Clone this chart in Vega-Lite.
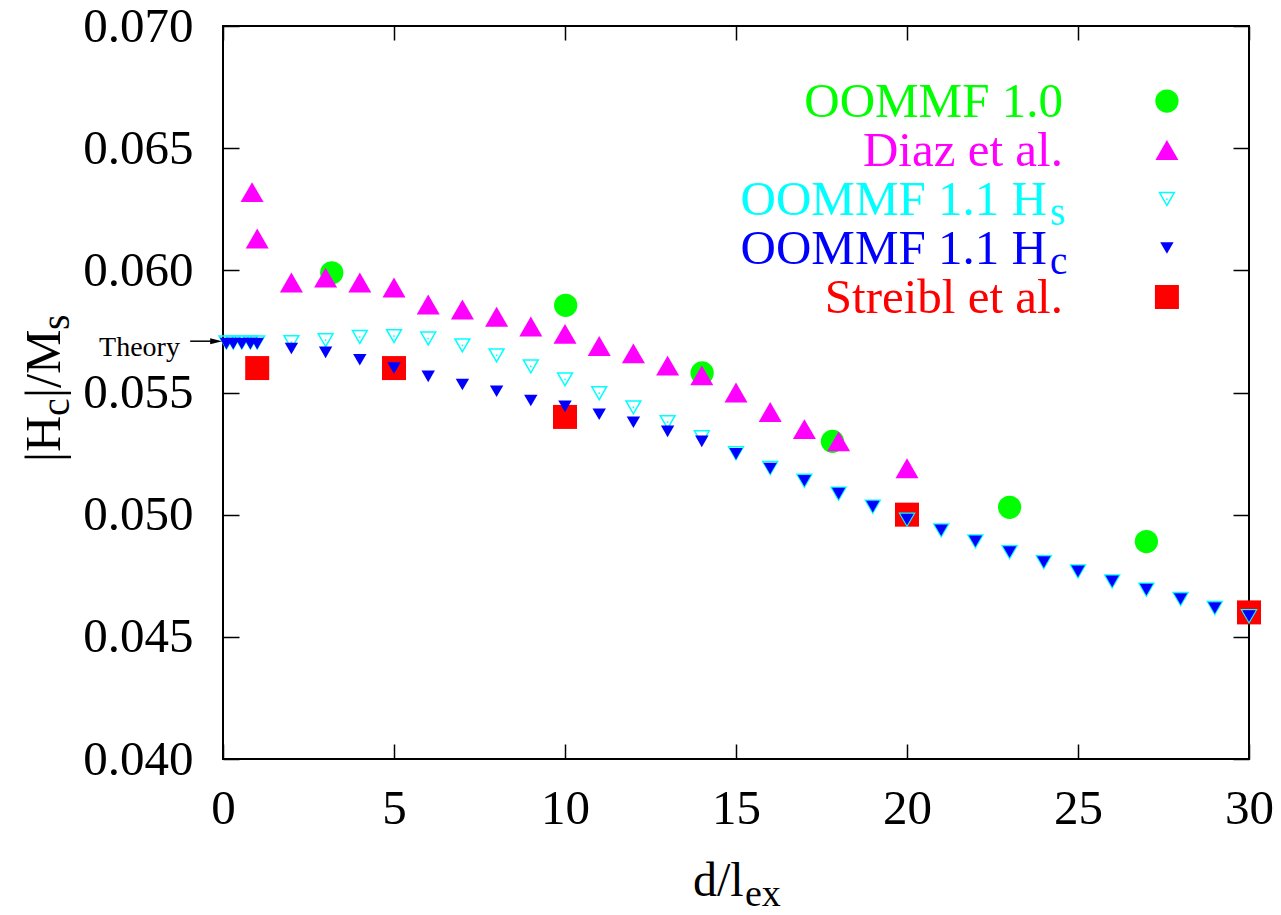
{
  "$schema": "https://vega.github.io/schema/vega-lite/v6.json",
  "width": 1026,
  "height": 733,
  "autosize": {"type": "none"},
  "padding": {"left": 223, "top": 26, "right": 32, "bottom": 156},
  "background": "white",
  "config": {
    "view": {"stroke": "black", "strokeWidth": 2},
    "font": "Liberation Serif",
    "axis": {
      "domain": false,
      "grid": false,
      "tickColor": "black",
      "tickWidth": 1.5,
      "labelColor": "black",
      "labelFont": "Liberation Serif",
      "labelFontSize": 49,
      "labelOverlap": false,
      "labelFlush": false
    }
  },
  "datasets": {
    "pts": [
      {"series": "OOMMF 1.0", "d": 3.18, "h": 0.0599},
      {"series": "OOMMF 1.0", "d": 10.02, "h": 0.05857},
      {"series": "OOMMF 1.0", "d": 14.01, "h": 0.0558},
      {"series": "OOMMF 1.0", "d": 17.82, "h": 0.0530},
      {"series": "OOMMF 1.0", "d": 23.0, "h": 0.0503},
      {"series": "OOMMF 1.0", "d": 27.0, "h": 0.0489},

      {"series": "Diaz et al.", "d": 0.85, "h": 0.0632},
      {"series": "Diaz et al.", "d": 1.0, "h": 0.0613},
      {"series": "Diaz et al.", "d": 2, "h": 0.0595},
      {"series": "Diaz et al.", "d": 3, "h": 0.0597},
      {"series": "Diaz et al.", "d": 4, "h": 0.0595},
      {"series": "Diaz et al.", "d": 5, "h": 0.0593},
      {"series": "Diaz et al.", "d": 6, "h": 0.0586},
      {"series": "Diaz et al.", "d": 7, "h": 0.0584},
      {"series": "Diaz et al.", "d": 8, "h": 0.0581},
      {"series": "Diaz et al.", "d": 9, "h": 0.0577},
      {"series": "Diaz et al.", "d": 10, "h": 0.0574},
      {"series": "Diaz et al.", "d": 11, "h": 0.0569},
      {"series": "Diaz et al.", "d": 12, "h": 0.0566},
      {"series": "Diaz et al.", "d": 13, "h": 0.0561},
      {"series": "Diaz et al.", "d": 14, "h": 0.0557},
      {"series": "Diaz et al.", "d": 15, "h": 0.0550},
      {"series": "Diaz et al.", "d": 16, "h": 0.0542},
      {"series": "Diaz et al.", "d": 17, "h": 0.0535},
      {"series": "Diaz et al.", "d": 18, "h": 0.0530},
      {"series": "Diaz et al.", "d": 20, "h": 0.0519},

      {"series": "OOMMF 1.1 Hs", "d": 0.1, "h": 0.05705},
      {"series": "OOMMF 1.1 Hs", "d": 0.3, "h": 0.05705},
      {"series": "OOMMF 1.1 Hs", "d": 0.55, "h": 0.05705},
      {"series": "OOMMF 1.1 Hs", "d": 0.8, "h": 0.05705},
      {"series": "OOMMF 1.1 Hs", "d": 1.0, "h": 0.05705},
      {"series": "OOMMF 1.1 Hs", "d": 2, "h": 0.05706},
      {"series": "OOMMF 1.1 Hs", "d": 3, "h": 0.05714},
      {"series": "OOMMF 1.1 Hs", "d": 4, "h": 0.05727},
      {"series": "OOMMF 1.1 Hs", "d": 5, "h": 0.05731},
      {"series": "OOMMF 1.1 Hs", "d": 6, "h": 0.05721},
      {"series": "OOMMF 1.1 Hs", "d": 7, "h": 0.05693},
      {"series": "OOMMF 1.1 Hs", "d": 8, "h": 0.05652},
      {"series": "OOMMF 1.1 Hs", "d": 9, "h": 0.05607},
      {"series": "OOMMF 1.1 Hs", "d": 10, "h": 0.05554},
      {"series": "OOMMF 1.1 Hs", "d": 11, "h": 0.05497},
      {"series": "OOMMF 1.1 Hs", "d": 12, "h": 0.05439},
      {"series": "OOMMF 1.1 Hs", "d": 13, "h": 0.05379},
      {"series": "OOMMF 1.1 Hs", "d": 14, "h": 0.05317},
      {"series": "OOMMF 1.1 Hs", "d": 15, "h": 0.05252},
      {"series": "OOMMF 1.1 Hs", "d": 16, "h": 0.05191},
      {"series": "OOMMF 1.1 Hs", "d": 17, "h": 0.05139},
      {"series": "OOMMF 1.1 Hs", "d": 18, "h": 0.05086},
      {"series": "OOMMF 1.1 Hs", "d": 19, "h": 0.05033},
      {"series": "OOMMF 1.1 Hs", "d": 20, "h": 0.0498},
      {"series": "OOMMF 1.1 Hs", "d": 21, "h": 0.04936},
      {"series": "OOMMF 1.1 Hs", "d": 22, "h": 0.04891},
      {"series": "OOMMF 1.1 Hs", "d": 23, "h": 0.04847},
      {"series": "OOMMF 1.1 Hs", "d": 24, "h": 0.04806},
      {"series": "OOMMF 1.1 Hs", "d": 25, "h": 0.04768},
      {"series": "OOMMF 1.1 Hs", "d": 26, "h": 0.04727},
      {"series": "OOMMF 1.1 Hs", "d": 27, "h": 0.04693},
      {"series": "OOMMF 1.1 Hs", "d": 28, "h": 0.04655},
      {"series": "OOMMF 1.1 Hs", "d": 29, "h": 0.04618},
      {"series": "OOMMF 1.1 Hs", "d": 30, "h": 0.04585},

      {"series": "OOMMF 1.1 Hc", "d": 0.1, "h": 0.0570},
      {"series": "OOMMF 1.1 Hc", "d": 0.3, "h": 0.0570},
      {"series": "OOMMF 1.1 Hc", "d": 0.55, "h": 0.0570},
      {"series": "OOMMF 1.1 Hc", "d": 0.8, "h": 0.0570},
      {"series": "OOMMF 1.1 Hc", "d": 1.0, "h": 0.0570},
      {"series": "OOMMF 1.1 Hc", "d": 2, "h": 0.0568},
      {"series": "OOMMF 1.1 Hc", "d": 3, "h": 0.05664},
      {"series": "OOMMF 1.1 Hc", "d": 4, "h": 0.05634},
      {"series": "OOMMF 1.1 Hc", "d": 5, "h": 0.0560},
      {"series": "OOMMF 1.1 Hc", "d": 6, "h": 0.05566},
      {"series": "OOMMF 1.1 Hc", "d": 7, "h": 0.05533},
      {"series": "OOMMF 1.1 Hc", "d": 8, "h": 0.05505},
      {"series": "OOMMF 1.1 Hc", "d": 9, "h": 0.05467},
      {"series": "OOMMF 1.1 Hc", "d": 10, "h": 0.05443},
      {"series": "OOMMF 1.1 Hc", "d": 11, "h": 0.05411},
      {"series": "OOMMF 1.1 Hc", "d": 12, "h": 0.05378},
      {"series": "OOMMF 1.1 Hc", "d": 13, "h": 0.05341},
      {"series": "OOMMF 1.1 Hc", "d": 14, "h": 0.0530},
      {"series": "OOMMF 1.1 Hc", "d": 15, "h": 0.05249},
      {"series": "OOMMF 1.1 Hc", "d": 16, "h": 0.05189},
      {"series": "OOMMF 1.1 Hc", "d": 17, "h": 0.05139},
      {"series": "OOMMF 1.1 Hc", "d": 18, "h": 0.05086},
      {"series": "OOMMF 1.1 Hc", "d": 19, "h": 0.05033},
      {"series": "OOMMF 1.1 Hc", "d": 20, "h": 0.0498},
      {"series": "OOMMF 1.1 Hc", "d": 21, "h": 0.04936},
      {"series": "OOMMF 1.1 Hc", "d": 22, "h": 0.04891},
      {"series": "OOMMF 1.1 Hc", "d": 23, "h": 0.04847},
      {"series": "OOMMF 1.1 Hc", "d": 24, "h": 0.04806},
      {"series": "OOMMF 1.1 Hc", "d": 25, "h": 0.04768},
      {"series": "OOMMF 1.1 Hc", "d": 26, "h": 0.04727},
      {"series": "OOMMF 1.1 Hc", "d": 27, "h": 0.04693},
      {"series": "OOMMF 1.1 Hc", "d": 28, "h": 0.04655},
      {"series": "OOMMF 1.1 Hc", "d": 29, "h": 0.04618},
      {"series": "OOMMF 1.1 Hc", "d": 30, "h": 0.04585},

      {"series": "Streibl et al.", "d": 1, "h": 0.056},
      {"series": "Streibl et al.", "d": 5, "h": 0.056},
      {"series": "Streibl et al.", "d": 10, "h": 0.054},
      {"series": "Streibl et al.", "d": 20, "h": 0.050},
      {"series": "Streibl et al.", "d": 30, "h": 0.046}
    ]
  },
  "layer": [
    {
      "encoding": {
        "x": {
          "field": "d",
          "type": "quantitative",
          "scale": {"domain": [0, 30], "nice": false, "zero": false},
          "axis": {"values": [0, 5, 10, 15, 20, 25, 30], "format": "d", "tickSize": -15, "labelPadding": 40, "title": null}
        },
        "y": {
          "field": "h",
          "type": "quantitative",
          "scale": {"domain": [0.04, 0.07], "nice": false, "zero": false},
          "axis": {"values": [0.04, 0.045, 0.05, 0.055, 0.06, 0.065, 0.07], "format": ".3f", "tickSize": -16, "labelPadding": 46, "title": null}
        }
      },
      "layer": [
        {
          "data": {"name": "pts"},
          "transform": [{"filter": "datum.series === 'OOMMF 1.0'"}],
          "mark": {"type": "point", "shape": "circle", "filled": true, "opacity": 1, "color": "#00ff00", "size": 540}
        },
        {
          "data": {"name": "pts"},
          "transform": [{"filter": "datum.series === 'Diaz et al.'"}],
          "mark": {"type": "point", "shape": "triangle-up", "filled": true, "opacity": 1, "color": "#ff00ff", "size": 529}
        },
        {
          "data": {"name": "pts"},
          "transform": [{"filter": "datum.series === 'Streibl et al.'"}],
          "mark": {"type": "point", "shape": "square", "filled": true, "opacity": 1, "color": "#ff0000", "size": 576}
        },
        {
          "data": {"name": "pts"},
          "transform": [{"filter": "datum.series === 'OOMMF 1.1 Hs'"}],
          "mark": {"type": "point", "shape": "triangle-down", "filled": false, "opacity": 1, "color": "#00ffff", "strokeWidth": 1.5, "size": 220}
        },
        {
          "data": {"name": "pts"},
          "transform": [{"filter": "datum.series === 'OOMMF 1.1 Hs'"}],
          "mark": {"type": "point", "shape": "circle", "filled": true, "opacity": 1, "color": "#00ffff", "size": 3}
        },
        {
          "data": {"name": "pts"},
          "transform": [{"filter": "datum.series === 'OOMMF 1.1 Hc'"}],
          "mark": {"type": "point", "shape": "triangle-down", "filled": true, "opacity": 1, "color": "#0000ff", "size": 180}
        }
      ]
    },
    {
      "encoding": {
        "x": {"type": "quantitative", "axis": null},
        "y": {"type": "quantitative", "axis": null}
      },
      "layer": [
        {
          "data": {"values": [{}]},
          "mark": {"type": "rule", "color": "black", "strokeWidth": 1.5},
          "encoding": {
            "x": {"datum": -0.96},
            "x2": {"datum": -0.3},
            "y": {"datum": 0.0571}
          }
        },
        {
          "data": {"values": [{}]},
          "mark": {"type": "point", "shape": "M-1,-0.5L1,0L-1,0.5Z", "filled": true, "opacity": 1, "color": "black", "size": 144},
          "encoding": {"x": {"datum": -0.2}, "y": {"datum": 0.0571}}
        },
        {
          "data": {"values": [{}]},
          "mark": {"type": "text", "text": "Theory", "font": "Liberation Serif", "fontSize": 28, "align": "right", "baseline": "alphabetic", "dy": 15, "color": "black"},
          "encoding": {"x": {"datum": -1.26}, "y": {"datum": 0.0571}}
        },

        {
          "data": {"values": [{}]},
          "mark": {"type": "text", "text": "|H", "font": "Liberation Serif", "fontSize": 50, "angle": 270, "align": "left", "baseline": "alphabetic", "color": "black"},
          "encoding": {"x": {"datum": -4.766}, "y": {"datum": 0.052155}}
        },
        {
          "data": {"values": [{}]},
          "mark": {"type": "text", "text": "c", "font": "Liberation Serif", "fontSize": 40, "angle": 270, "align": "left", "baseline": "alphabetic", "dx": 46, "dy": 9, "color": "black"},
          "encoding": {"x": {"datum": -4.766}, "y": {"datum": 0.052155}}
        },
        {
          "data": {"values": [{}]},
          "mark": {"type": "text", "text": "|/M", "font": "Liberation Serif", "fontSize": 50, "angle": 270, "align": "left", "baseline": "alphabetic", "dx": 64, "color": "black"},
          "encoding": {"x": {"datum": -4.766}, "y": {"datum": 0.052155}}
        },
        {
          "data": {"values": [{}]},
          "mark": {"type": "text", "text": "s", "font": "Liberation Serif", "fontSize": 40, "angle": 270, "align": "left", "baseline": "alphabetic", "dx": 132, "dy": 9, "color": "black"},
          "encoding": {"x": {"datum": -4.766}, "y": {"datum": 0.052155}}
        },

        {
          "data": {"values": [{}]},
          "mark": {"type": "text", "text": "d/l", "font": "Liberation Serif", "fontSize": 48, "align": "left", "baseline": "alphabetic", "color": "black"},
          "encoding": {"x": {"datum": 13.74}, "y": {"datum": 0.034392}}
        },
        {
          "data": {"values": [{}]},
          "mark": {"type": "text", "text": "ex", "font": "Liberation Serif", "fontSize": 38, "align": "left", "baseline": "alphabetic", "dx": 52, "dy": 10, "color": "black"},
          "encoding": {"x": {"datum": 13.74}, "y": {"datum": 0.034392}}
        },

        {
          "data": {"values": [{}]},
          "mark": {"type": "point", "shape": "circle", "filled": true, "opacity": 1, "color": "#00ff00", "size": 540},
          "encoding": {"x": {"datum": 27.6}, "y": {"datum": 0.06693}}
        },
        {
          "data": {"values": [{}]},
          "mark": {"type": "point", "shape": "triangle-up", "filled": true, "opacity": 1, "color": "#ff00ff", "size": 529},
          "encoding": {"x": {"datum": 27.6}, "y": {"datum": 0.064925}}
        },
        {
          "data": {"values": [{}]},
          "mark": {"type": "point", "shape": "triangle-down", "filled": false, "opacity": 1, "color": "#00ffff", "strokeWidth": 1.5, "size": 220},
          "encoding": {"x": {"datum": 27.6}, "y": {"datum": 0.062919}}
        },
        {
          "data": {"values": [{}]},
          "mark": {"type": "point", "shape": "circle", "filled": true, "opacity": 1, "color": "#00ffff", "size": 3},
          "encoding": {"x": {"datum": 27.6}, "y": {"datum": 0.062919}}
        },
        {
          "data": {"values": [{}]},
          "mark": {"type": "point", "shape": "triangle-down", "filled": true, "opacity": 1, "color": "#0000ff", "size": 180},
          "encoding": {"x": {"datum": 27.6}, "y": {"datum": 0.060914}}
        },
        {
          "data": {"values": [{}]},
          "mark": {"type": "point", "shape": "square", "filled": true, "opacity": 1, "color": "#ff0000", "size": 576},
          "encoding": {"x": {"datum": 27.6}, "y": {"datum": 0.058908}}
        },

        {
          "data": {"values": [{}]},
          "mark": {"type": "text", "text": "OOMMF 1.0", "font": "Liberation Serif", "fontSize": 49, "align": "right", "baseline": "alphabetic", "dy": 16, "color": "#00ff00"},
          "encoding": {"x": {"datum": 24.56}, "y": {"datum": 0.06693}}
        },
        {
          "data": {"values": [{}]},
          "mark": {"type": "text", "text": "Diaz et al.", "font": "Liberation Serif", "fontSize": 49, "align": "right", "baseline": "alphabetic", "dy": 16, "color": "#ff00ff"},
          "encoding": {"x": {"datum": 24.56}, "y": {"datum": 0.064925}}
        },
        {
          "data": {"values": [{}]},
          "mark": {"type": "text", "text": "OOMMF 1.1 H", "font": "Liberation Serif", "fontSize": 49, "align": "right", "baseline": "alphabetic", "dy": 16, "color": "#00ffff"},
          "encoding": {"x": {"datum": 24.09}, "y": {"datum": 0.062919}}
        },
        {
          "data": {"values": [{}]},
          "mark": {"type": "text", "text": "s", "font": "Liberation Serif", "fontSize": 39, "align": "left", "baseline": "alphabetic", "dx": 3, "dy": 26, "color": "#00ffff"},
          "encoding": {"x": {"datum": 24.09}, "y": {"datum": 0.062919}}
        },
        {
          "data": {"values": [{}]},
          "mark": {"type": "text", "text": "OOMMF 1.1 H", "font": "Liberation Serif", "fontSize": 49, "align": "right", "baseline": "alphabetic", "dy": 16, "color": "#0000ff"},
          "encoding": {"x": {"datum": 24.09}, "y": {"datum": 0.060914}}
        },
        {
          "data": {"values": [{}]},
          "mark": {"type": "text", "text": "c", "font": "Liberation Serif", "fontSize": 39, "align": "left", "baseline": "alphabetic", "dx": 3, "dy": 26, "color": "#0000ff"},
          "encoding": {"x": {"datum": 24.09}, "y": {"datum": 0.060914}}
        },
        {
          "data": {"values": [{}]},
          "mark": {"type": "text", "text": "Streibl et al.", "font": "Liberation Serif", "fontSize": 49, "align": "right", "baseline": "alphabetic", "dy": 16, "color": "#ff0000"},
          "encoding": {"x": {"datum": 24.56}, "y": {"datum": 0.058908}}
        }
      ]
    },
    {
      "data": {"name": "pts"},
      "mark": {"type": "point", "opacity": 0},
      "encoding": {
        "x": {
          "field": "d",
          "type": "quantitative",
          "axis": {"orient": "top", "labels": false, "values": [0, 5, 10, 15, 20, 25, 30], "tickSize": -14, "title": null}
        },
        "y": {
          "field": "h",
          "type": "quantitative",
          "axis": {"orient": "right", "labels": false, "values": [0.04, 0.045, 0.05, 0.055, 0.06, 0.065, 0.07], "tickSize": -16, "title": null}
        }
      }
    }
  ],
  "resolve": {"axis": {"x": "independent", "y": "independent"}}
}
